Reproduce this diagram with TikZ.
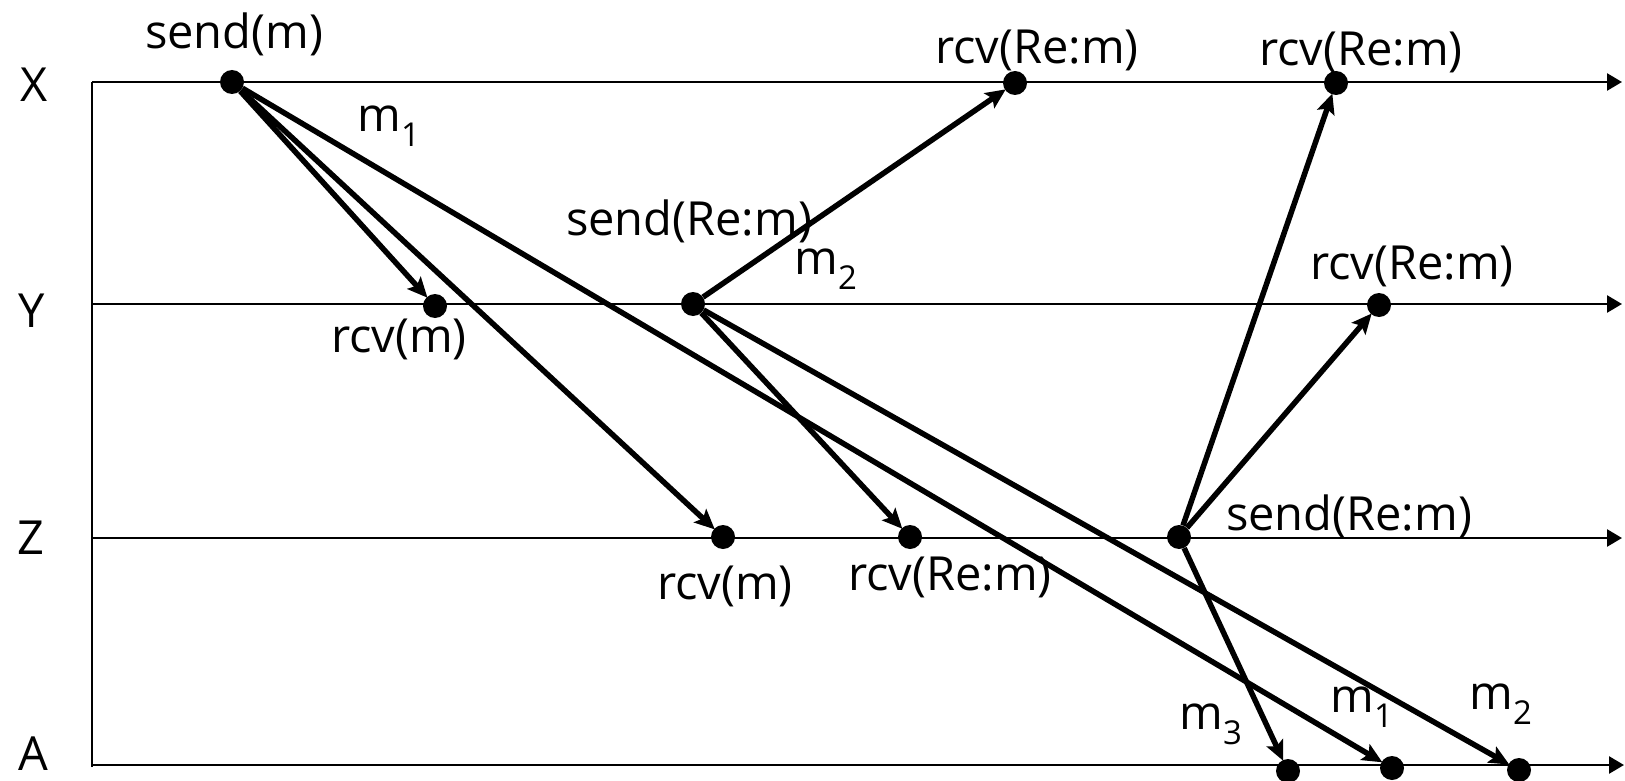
\documentclass[tikz,border=0pt]{standalone}
\usepackage{fontspec}
\setmainfont{Open Sans}
\usetikzlibrary{arrows.meta}
\begin{document}
\begin{tikzpicture}[x=1pt,y=-1pt,
  timeline/.style={line width=2.6pt,-{Triangle[length=15pt,width=17pt]}},
  msg/.style={line width=5.5pt,-{Stealth[length=20pt,width=18pt,inset=4pt]},shorten >=-1pt},
  evt/.style={circle,fill=black,inner sep=0pt,minimum size=24pt},
  lbl/.style={inner sep=0pt,font=\fontsize{47}{54}\selectfont}]
\useasboundingbox (0,0) rectangle (1625,781);
% axis
\coordinate (o) at (92,82);
\coordinate (ob) at (92,767);
\coordinate (xe) at (1622,82);
\coordinate (y0) at (92,304);
\coordinate (ye) at (1622,304);
\coordinate (z0) at (92,538);
\coordinate (ze) at (1622,538);
\coordinate (a0) at (92,765);
\coordinate (ae) at (1624,765);
\draw[line width=2.6pt] (ob) -- (o);
\draw[timeline] (o) -- (xe);
\draw[timeline] (y0) -- (ye);
\draw[timeline] (z0) -- (ze);
\draw[timeline] (a0) -- (ae);
% process labels
\node[lbl] (lx) at (34,85) {X};
\node[lbl] (ly) at (32,311) {Y};
\node[lbl] (lz) at (31,538) {Z};
\node[lbl] (la) at (33,754) {A};
% events
\node[evt] (s1) at (232,82) {};
\node[evt] (xr1) at (1015,83) {};
\node[evt] (xr2) at (1336,83) {};
\node[evt] (yr1) at (435,306) {};
\node[evt] (ys) at (693,304) {};
\node[evt] (yr2) at (1379,305) {};
\node[evt] (zr1) at (723,537) {};
\node[evt] (zr2) at (910,537) {};
\node[evt] (zs) at (1179,537) {};
\node[evt] (ar3) at (1288,771) {};
\node[evt] (ar1) at (1392,768) {};
\node[evt] (ar2) at (1519,770) {};
% messages
\draw[msg] (s1) -- (yr1);
\draw[msg] (s1) -- (zr1);
\draw[msg] (s1) -- (ar1);
\draw[msg] (ys) -- (xr1);
\draw[msg] (ys) -- (zr2);
\draw[msg] (ys) -- (ar2);
\draw[msg] (zs) -- (xr2);
\draw[msg] (zs) -- (yr2);
\draw[msg] (zs) -- (ar3);
% labels
\node[lbl] (t1) at (234,34) {send(m)};
\node[lbl] (t2) at (1037,50) {rcv(Re:m)};
\node[lbl] (t3) at (1361,52) {rcv(Re:m)};
\node[lbl] (t4) at (689,221) {send(Re:m)};
\node[lbl] (t5) at (399,339) {rcv(m)};
\node[lbl] (t6) at (1412,266) {rcv(Re:m)};
\node[lbl] (t7) at (1349,516) {send(Re:m)};
\node[lbl] (t8) at (725,586) {rcv(m)};
\node[lbl] (t9) at (950,577) {rcv(Re:m)};
\node[lbl] (m1a) at (389,126) {m\textsubscript{1}};
\node[lbl] (m2a) at (826,269) {m\textsubscript{2}};
\node[lbl] (m3) at (1211,724) {m\textsubscript{3}};
\node[lbl] (m1b) at (1362,707) {m\textsubscript{1}};
\node[lbl] (m2b) at (1501,704) {m\textsubscript{2}};
\end{tikzpicture}
\end{document}
